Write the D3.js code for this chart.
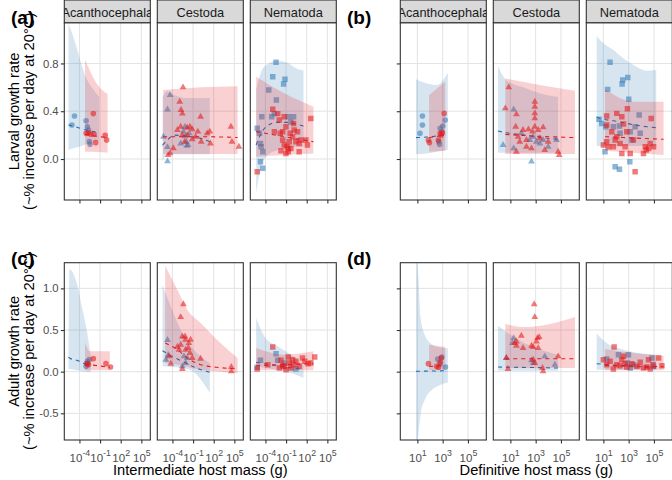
<!DOCTYPE html>
<html lang="en">
<head>
<meta charset="utf-8">
<script src="https://cdn.jsdelivr.net/npm/d3@7"></script>
<style>
  body { margin: 0; background: #fff; }
  svg text { font-family: "Liberation Sans", Arial, sans-serif; }
</style>
</head>
<body>
<svg id="chart" width="672" height="480"></svg>

<script>
// facets / tick labels
var taxa = ["Acanthocephala", "Cestoda", "Nematoda"];
var xTicksInt = [-4, -1, 2, 5];      // log10 intermediate host mass
var xTicksDef = [1, 3, 5];           // log10 definitive host mass
var yTicksLarval = [0.0, 0.4, 0.8];
var yTicksAdult = [-0.5, 0.0, 0.5, 1.0];
var xDomInt = [-6.2, 6.3];
var xDomDef = [-0.35, 6.45];
var yDomLarval = [-0.343, 1.141];
var yDomAdult = [-0.82, 1.308];

// points: [taxon index, log10 host mass, growth rate]
var larvalIntBlue = [
  [0,-5.1,0.285],[0,-4.72,0.36],[0,-3.03,0.32],[0,-2.85,0.27],[0,-2.7,0.243],[0,-2.56,0.145],[0,-2.46,0.123],
  [1,-5.3,0.187],[1,-4.72,0.10],[1,-4.72,-0.02],[1,-4.34,0.535],[1,-4.72,0.415],[1,-2.41,0.23],[1,-2.17,0.19],
  [1,-1.98,0.145],[1,-1.93,0.11],[1,-1.74,0.117],[1,-2.17,0.27],[1,-1.55,0.215],[1,-2.8,0.13],
  [2,-5.2,0.257],[2,-4.87,0.215],[2,-4.72,0.13],[2,-4.53,0.354],[2,-4.62,0.103],[2,-4.38,0.061],[2,-4.72,-0.022],
  [2,-4.38,-0.078],[2,-3.52,0.577],[2,-2.94,0.689],[2,-2.46,0.81],[2,-2.41,0.494],[2,-1.36,0.628],[2,-1.16,0.667],
  [2,-3.09,0.354],[2,-2.7,0.38],[2,-0.68,0.354],[2,0.09,0.354],[2,-0.3,0.31]
];
var larvalIntRed = [
  [0,-1.98,0.38],[0,-3.03,0.215],[0,-2.7,0.22],[0,-2.36,0.207],[0,-1.88,0.207],[0,-1.64,0.137],[0,-0.25,0.198],[0,-0.05,0.16],
  [1,-2.46,0.6],[1,-2.94,0.48],[1,-2.75,0.41],[1,-2.56,0.38],[1,-3.28,0.243],[1,-2.8,0.27],[1,-1.84,0.262],[1,-1.45,0.27],
  [1,-1.12,0.248],[1,-1.84,0.2],[1,-3.86,0.09],[1,-4.34,0.047],[1,-4.62,0.033],[1,0.09,0.354],[1,-0.3,0.229],[1,1.05,0.215],
  [1,1.43,0.229],[1,0.18,0.145],[1,1.53,0.13],[1,4.51,0.27],[1,4.65,0.145],[1,5.66,0.103],[1,-1.12,0.165],[1,-0.63,0.187],
  [1,-2.56,0.2],[1,-2.22,0.145],
  [2,-5.2,-0.106],[2,-2.94,0.416],[2,-2.22,0.38],[2,-1.98,0.326],[2,-1.26,0.354],[2,-1.02,0.27],[2,-1.84,0.215],[2,-1.5,0.159],
  [2,-1.26,0.117],[2,-0.87,0.103],[2,-0.68,0.089],[2,-0.3,0.089],[2,-0.54,0.145],[2,-0.06,0.187],[2,0.18,0.243],[2,0.42,0.145],
  [2,0.9,0.13],[2,1.14,0.159],[2,-1.74,0.07],[2,-1.02,0.047],[2,-0.68,0.061],[2,0.9,0.061],[2,2.1,0.117],[2,2.59,0.34],
  [2,0.09,0.298],[2,-2.7,0.229],[2,-1.5,0.229],[2,-0.4,0.215],[2,0.66,0.229],[2,1.87,0.159]
];
var larvalDefBlue = [
  [0,1.4,0.36],[0,1.4,0.285],[0,1.21,0.215],[0,3.2,0.326],[0,3.01,0.276],[0,2.8,0.257],[0,2.69,0.145],[0,2.75,0.123],[0,2.93,0.229],
  [1,0.42,0.117],[1,1.26,0.415],[1,1.26,0.089],[1,2.67,-0.022],[1,1.87,0.215],[1,2.53,0.159],[1,3.06,0.145],[1,3.33,0.13],
  [1,3.99,0.103],[1,4.65,0.159],[1,2.8,0.187],[1,3.59,0.159],
  [2,1.53,0.81],[2,2.53,0.661],[2,2.48,0.628],[2,2.93,0.683],[2,1.34,0.583],[2,3.01,0.5],[2,1.93,-0.064],[2,2.27,-0.086],
  [2,3.09,-0.022],[2,0.66,0.332],[2,0.87,0.298],[2,1.13,0.061],[2,1.19,0.27],[2,2.27,0.276],[2,2.32,0.215],[2,3.83,0.368],
  [2,3.51,0.27],[2,3.91,0.215],[2,3.12,0.229],[2,3.25,0.159],[2,1.79,0.27]
];
var larvalDefRed = [
  [0,3.12,0.382],[0,2.8,0.215],[0,2.88,0.2],[0,2.98,0.22],[0,1.87,0.159],[0,1.95,0.137],[0,2.67,0.159],
  [1,0.87,0.6],[1,0.6,0.424],[1,1.48,0.374],[1,1.42,0.27],[1,2.0,0.243],[1,2.93,0.48],[1,2.93,0.438],[1,2.93,0.382],
  [1,2.93,0.34],[1,2.93,0.27],[1,2.75,0.229],[1,3.59,0.265],[1,3.2,0.243],[1,1.74,0.145],[1,2.27,0.159],[1,2.27,0.103],
  [1,1.48,0.061],[1,2.67,0.089],[1,3.72,0.075],[1,4.78,0.061],[1,4.86,0.033],[1,3.99,0.145],[1,3.33,0.173],[1,1.61,0.187],[1,2.43,0.248],
  [2,1.26,0.36],[2,2.06,0.382],[2,2.9,0.421],[2,2.46,0.354],[2,4.78,0.34],[2,3.51,-0.106],[2,1.26,0.285],[2,1.66,0.229],
  [2,2.06,0.187],[2,1.26,0.145],[2,1.0,0.117],[2,1.79,0.103],[2,2.32,0.13],[2,2.72,0.103],[2,3.12,0.047],[2,2.46,0.047],
  [2,2.85,0.229],[2,3.38,0.159],[2,4.31,0.103],[2,4.39,0.075],[2,4.57,0.089],[2,4.7,0.13],[2,4.97,0.103],[2,4.17,0.047],
  [2,2.59,0.293],[2,1.4,0.103],[2,1.93,0.159]
];
var adultIntBlue = [
  [0,-3.04,0.064],[0,-2.8,0.096],[0,-2.56,0.144],[0,-2.85,0.124],
  [1,-4.72,0.38],[1,-4.96,0.144],[1,-4.62,0.2],[1,-2.56,0.064],[1,-2.08,0.104],[1,-2.32,0.184],[1,-1.84,0.164],
  [2,-5.2,0.052],[2,-4.72,0.136],[2,-2.46,0.216],[2,-2.22,0.136],[2,0.42,0.032],[2,-1.26,0.104]
];
var adultIntRed = [
  [0,-1.98,0.156],[0,-0.15,0.096],[0,0.52,0.056],[0,-2.94,0.096],[0,-2.7,0.084],
  [1,-2.41,0.81],[1,-2.8,0.655],[1,-2.56,0.423],[1,-2.17,0.423],[1,-2.08,0.383],[1,-2.8,0.323],[1,-3.04,0.264],[1,-1.6,0.343],
  [1,-1.36,0.383],[1,-1.69,0.284],[1,-1.45,0.224],[1,-1.12,0.164],[1,0.09,0.156],[1,-4.48,0.184],[1,-4.24,0.096],[1,-2.56,0.032],
  [1,-2.08,0.264],[1,4.56,0.056],[1,4.56,0.004],[1,-3.28,0.3],
  [2,-5.2,0.032],[2,-2.94,0.296],[2,-1.74,0.136],[2,-1.26,0.064],[2,-0.68,0.176],[2,-0.54,0.104],[2,-0.3,0.044],[2,0.09,0.084],
  [2,0.42,0.124],[2,0.9,0.064],[2,1.38,0.164],[2,1.72,0.124],[2,2.2,0.096],[2,3.16,0.176],[2,2.59,0.104],[2,-1.98,0.044],
  [2,-1.02,0.024],[2,-1.5,0.072],[2,-0.06,0.144],[2,-3.66,0.084]
];
var adultDefBlue = [
  [0,2.61,0.152],[0,2.8,0.096],[0,3.22,0.056],[0,2.93,0.176],
  [1,1.26,0.403],[1,0.68,0.164],[1,1.16,0.343],[1,2.67,0.136],[1,2.8,0.104],[1,3.72,0.184],[1,4.52,0.084],
  [2,1.26,0.152],[2,2.19,0.204],[2,2.98,0.204],[2,2.9,0.104],[2,3.12,0.044],[2,3.38,0.084],[2,4.84,0.164],[2,4.97,0.064]
];
var adultDefRed = [
  [0,1.87,0.096],[0,2.67,0.052],[0,2.88,0.164],[0,2.8,0.112],[0,2.53,0.064],
  [1,2.88,0.81],[1,2.93,0.655],[1,1.87,0.431],[1,1.48,0.311],[1,1.34,0.343],[1,2.0,0.284],[1,2.67,0.311],[1,2.8,0.296],
  [1,3.14,0.403],[1,3.28,0.415],[1,3.2,0.284],[1,3.06,0.363],[1,0.68,0.164],[1,0.81,0.032],[1,2.8,0.144],[1,2.93,0.104],
  [1,3.59,0.004],[1,3.54,0.044],[1,4.78,0.184],[1,1.48,0.363],
  [2,1.85,0.296],[2,1.0,0.144],[2,1.53,0.124],[2,2.06,0.084],[2,2.46,0.144],[2,2.59,0.184],[2,2.72,0.096],[2,2.85,0.056],
  [2,2.32,0.072],[2,3.25,0.096],[2,3.65,0.064],[2,3.91,0.112],[2,4.17,0.044],[2,4.44,0.056],[2,4.7,0.032],[2,4.92,0.084],
  [2,4.57,0.144],[2,5.37,0.164],[2,5.63,0.072],[2,1.26,0.084],[2,1.79,0.032]
];

// model fits: [taxon index, log10 host mass, lower, fit, upper]
var larvalIntBlueFit = [
  [0,-5.59,0.075,0.285,1.135],[0,-4.87,0.09,0.276,1.02],[0,-4.14,0.10,0.262,0.88],[0,-3.18,0.12,0.245,0.70],[0,-2.2,0.14,0.232,0.6],[0,-1.12,0.15,0.22,0.52],
  [1,-5.44,-0.02,0.117,0.52],[1,-4.72,0.04,0.16,0.57],[1,-3.76,0.04,0.2,0.535],[1,-1.84,0.04,0.19,0.51],[1,0.09,0.04,0.173,0.51],[1,1.43,0.04,0.145,0.51],
  [2,-5.35,-0.287,0.117,0.577],[2,-4.63,-0.064,0.215,0.73],[2,-3.9,0.02,0.27,0.787],[2,-2.22,0.075,0.307,0.823],[2,-0.78,0.09,0.307,0.806],[2,0.42,0.103,0.293,0.759],[2,1.53,0.103,0.276,0.74]
];
var larvalIntRedFit = [
  [0,-3.18,0.061,0.206,0.83],[0,-1.5,0.059,0.19,0.633],[0,0.09,0.053,0.18,0.544],
  [1,-5.35,0.042,0.187,0.577],[1,0.09,0.042,0.187,0.6],[1,5.47,0.042,0.18,0.61],
  [2,-5.35,0.02,0.229,0.689],[2,-1.26,0.033,0.187,0.55],[2,2.97,0.047,0.145,0.438]
];
var larvalDefBlueFit = [
  [0,0.89,0.042,0.179,0.667],[0,1.74,0.047,0.184,0.633],[0,2.53,0.061,0.192,0.62],[0,3.41,0.075,0.2,0.722],
  [1,0.02,0.053,0.234,0.778],[1,0.68,0.053,0.22,0.661],[1,2.27,0.053,0.198,0.591],[1,3.33,0.053,0.181,0.55],[1,4.78,0.053,0.165,0.52],
  [2,0.47,0.109,0.349,1.03],[2,1.0,0.109,0.332,0.968],[2,1.79,0.109,0.321,0.912],[2,2.59,0.109,0.304,0.842],[2,3.38,0.109,0.287,0.787],[2,4.44,0.109,0.27,0.739],[2,5.18,0.109,0.262,0.745]
];
var larvalDefRedFit = [
  [0,1.93,0.061,0.18,0.535],[0,3.2,0.07,0.2,0.647],
  [1,0.6,0.042,0.206,0.675],[1,3.33,0.042,0.19,0.62],[1,6.11,0.042,0.179,0.572],
  [2,1.13,0.07,0.187,0.583],[2,3.38,0.053,0.176,0.48],[2,5.76,0.033,0.165,0.48]
];
var adultIntBlueFit = [
  [0,-5.59,0.032,0.176,0.2],[0,-5.45,0.032,0.164,1.23],[0,-4.38,0.016,0.136,1.06],[0,-3.66,0.004,0.112,0.783],[0,-3.04,0,0.088,0.543],[0,-2.37,-0.008,0.072,0.204],
  [1,-5.44,0.064,0.252,1.04],[1,-4.24,0.056,0.192,0.783],[1,-2.56,0.044,0.124,0.463],[1,-0.88,-0.008,0.056,0.264],[1,1.43,-0.256,-0.008,0.104],
  [2,-5.35,0.064,0.112,0.643],[2,-4.14,0.048,0.096,0.423],[2,-2.22,0.024,0.072,0.304],[2,-0.3,-0.016,0.048,0.204],[2,1.53,-0.076,0.024,0.084]
];
var adultIntRedFit = [
  [0,-3.18,0.016,0.092,0.351],[0,-2.46,0.016,0.084,0.244],[0,0.42,0.016,0.052,0.244],
  [1,-5.06,0.104,0.343,1.27],[1,-3.28,0.084,0.264,0.982],[1,-1.84,0.056,0.164,0.743],[1,0.09,0.024,0.084,0.583],[1,2.97,0,0.048,0.343],[1,5.47,-0.016,0.032,0.164],
  [2,-5.35,0.016,0.072,0.284],[2,-1.26,0.016,0.084,0.204],[2,2.97,0.016,0.096,0.244]
];
var adultDefBlueFit = [
  [0,0.89,-0.9,0.004,1.4],[0,1.05,-0.8,0.005,1.2],[0,1.26,-0.5,0.006,0.64],[0,1.61,-0.33,0.007,0.43],[0,2.14,-0.22,0.008,0.33],[0,2.8,-0.16,0.01,0.29],[0,3.41,-0.13,0.012,0.28],
  [1,0.02,0.012,0.056,0.551],[1,1.21,0.012,0.053,0.423],[1,2.67,0.012,0.05,0.304],[1,4.78,0.012,0.044,0.204],
  [2,0.47,0.024,0.096,0.455],[2,1.26,0.024,0.085,0.343],[2,2.59,0.024,0.07,0.264],[2,5.18,0.024,0.044,0.204]
];
var adultDefRedFit = [
  [0,1.93,0.016,0.064,0.323],[0,3.2,0.024,0.072,0.296],
  [1,0.6,0.044,0.156,0.575],[1,2.0,0.044,0.156,0.535],[1,3.86,0.044,0.156,0.563],[1,6.11,0.044,0.156,0.655],
  [2,1.13,0.016,0.076,0.272],[2,3.38,0.016,0.068,0.224],[2,5.76,0.016,0.06,0.192]
];

var yTitle2 = "(~% increase per day at 20\u00B0C)";

var panels = [
  {label: "(a)", lx: 11, ly: 23.5, left: 64.3, top: 22.7, strip: true, xlab: false, ylab: true,
   pts: [larvalIntBlue, larvalIntRed], fits: [larvalIntBlueFit, larvalIntRedFit],
   xDom: xDomInt, yDom: yDomLarval, xTicks: xTicksInt, yTicks: yTicksLarval, yTitle: "Larval growth rate"},
  {label: "(b)", lx: 347, ly: 23.5, left: 400.3, top: 22.7, strip: true, xlab: false, ylab: false,
   pts: [larvalDefBlue, larvalDefRed], fits: [larvalDefBlueFit, larvalDefRedFit],
   xDom: xDomDef, yDom: yDomLarval, xTicks: xTicksDef, yTicks: yTicksLarval},
  {label: "(c)", lx: 11, ly: 264.5, left: 64.3, top: 262.7, strip: false, xlab: true, ylab: true,
   pts: [adultIntBlue, adultIntRed], fits: [adultIntBlueFit, adultIntRedFit],
   xDom: xDomInt, yDom: yDomAdult, xTicks: xTicksInt, yTicks: yTicksAdult, yTitle: "Adult growth rate",
   xTitle: "Intermediate host mass (g)"},
  {label: "(d)", lx: 347, ly: 264.5, left: 400.3, top: 262.7, strip: false, xlab: true, ylab: false,
   pts: [adultDefBlue, adultDefRed], fits: [adultDefBlueFit, adultDefRedFit],
   xDom: xDomDef, yDom: yDomAdult, xTicks: xTicksDef, yTicks: yTicksAdult,
   xTitle: "Definitive host mass (g)"}
];

var facetW = 86, facetGap = 7, plotH = 177.3, stripH = 22.7;
var ribbonFill = ["#377EB8", "#E41A1C"];
var pointFill = ["#377EB8", "#E41A1C"];
var lineCol = ["#1F6FB8", "#E41A1C"];
var shapes = [d3.symbolCircle, d3.symbolTriangle, d3.symbolSquare];
var shapeSize = [25, 20, 30];

var svg = d3.select("#chart");
var defs = svg.append("defs");

panels.forEach(function(p, pi) {
  var g = svg.append("g");
  taxa.forEach(function(taxon, ti) {
    var fx = p.left + ti * (facetW + facetGap);
    var x = d3.scaleLinear().domain(p.xDom).range([fx, fx + facetW]);
    var y = d3.scaleLinear().domain(p.yDom).range([p.top + plotH, p.top]);
    var cid = "clip" + pi + "_" + ti;
    defs.append("clipPath").attr("id", cid).append("rect")
      .attr("x", fx).attr("y", p.top).attr("width", facetW).attr("height", plotH);

    g.append("rect").attr("x", fx).attr("y", p.top).attr("width", facetW).attr("height", plotH)
      .attr("fill", "#fff");

    // grid
    g.selectAll(null).data(p.xTicks).enter().append("line")
      .attr("x1", function(d) { return x(d); }).attr("x2", function(d) { return x(d); })
      .attr("y1", p.top).attr("y2", p.top + plotH)
      .attr("stroke", "#E3E3E3").attr("stroke-width", 1);
    g.selectAll(null).data(p.yTicks).enter().append("line")
      .attr("y1", function(d) { return y(d); }).attr("y2", function(d) { return y(d); })
      .attr("x1", fx).attr("x2", fx + facetW)
      .attr("stroke", "#E3E3E3").attr("stroke-width", 1);

    var data = g.append("g").attr("clip-path", "url(#" + cid + ")");
    [0, 1].forEach(function(ci) {
      var fit = p.fits[ci].filter(function(d) { return d[0] === ti; });
      var pts = p.pts[ci].filter(function(d) { return d[0] === ti; });
      var area = d3.area().curve(d3.curveMonotoneX)
        .x(function(d) { return x(d[1]); })
        .y0(function(d) { return y(d[2]); })
        .y1(function(d) { return y(d[4]); });
      data.append("path").datum(fit).attr("d", area)
        .attr("fill", ribbonFill[ci]).attr("fill-opacity", 0.2);
      data.selectAll(null).data(pts).enter().append("path")
        .attr("d", d3.symbol().type(shapes[ti]).size(shapeSize[ti]))
        .attr("transform", function(d) { return "translate(" + x(d[1]) + "," + y(d[2]) + ")"; })
        .attr("fill", pointFill[ci]).attr("fill-opacity", 0.58);
      var line = d3.line().curve(d3.curveMonotoneX)
        .x(function(d) { return x(d[1]); })
        .y(function(d) { return y(d[3]); });
      data.append("path").datum(fit).attr("d", line)
        .attr("fill", "none").attr("stroke", lineCol[ci]).attr("stroke-width", 1.1)
        .attr("stroke-dasharray", "4,4");
    });

    g.append("rect").attr("x", fx).attr("y", p.top).attr("width", facetW).attr("height", plotH)
      .attr("fill", "none").attr("stroke", "#333333").attr("stroke-width", 1.1);

    // strip
    if (p.strip) {
      var sid = "strip" + pi + "_" + ti;
      defs.append("clipPath").attr("id", sid).append("rect")
        .attr("x", fx).attr("y", p.top - stripH).attr("width", facetW).attr("height", stripH);
      g.append("rect").attr("x", fx).attr("y", p.top - stripH).attr("width", facetW).attr("height", stripH)
        .attr("fill", "#D9D9D9").attr("stroke", "#333333").attr("stroke-width", 1.1);
      g.append("text").attr("clip-path", "url(#" + sid + ")")
        .attr("x", fx + facetW / 2).attr("y", p.top - 5.8)
        .attr("text-anchor", "middle").attr("font-size", "12.8px").attr("fill", "#1A1A1A")
        .text(taxon);
    }

    // x axis
    var xa = g.append("g").attr("transform", "translate(0," + (p.top + plotH) + ")")
      .call(d3.axisBottom(x).tickValues(p.xTicks).tickSize(3.5).tickFormat(""));
    xa.select(".domain").remove();
    xa.selectAll(".tick line").attr("stroke", "#333333").attr("stroke-width", 1.1);
    if (p.xlab) {
      xa.selectAll(".tick text").each(function(d) {
        var t = d3.select(this).text(null).attr("y", 21.5).attr("dy", null)
          .attr("fill", "#4D4D4D").attr("font-size", "11.5px").attr("text-anchor", "middle");
        t.append("tspan").text("10");
        t.append("tspan").attr("dy", -6).attr("font-size", "8.8px").text(String(d));
      });
    }

    // y axis on first facet
    if (ti === 0) {
      var ya = g.append("g").attr("transform", "translate(" + fx + ",0)")
        .call(d3.axisLeft(y).tickValues(p.yTicks).tickSize(3.5).tickPadding(2.2)
          .tickFormat(function(d) { return p.ylab ? d.toFixed(1) : ""; }));
      ya.select(".domain").remove();
      ya.selectAll(".tick line").attr("stroke", "#333333").attr("stroke-width", 1.1);
      ya.selectAll(".tick text").attr("fill", "#4D4D4D").attr("font-size", "11.3px")
        .attr("font-family", "Liberation Sans, Arial, sans-serif");
    }
  });

  var cy = p.top + plotH / 2;
  if (p.yTitle) {
    var yt = g.append("text").attr("transform", "translate(19," + cy + ") rotate(-90)")
      .attr("text-anchor", "middle").attr("font-size", "14.7px").attr("fill", "#000");
    yt.append("tspan").attr("x", 0).attr("y", 0).text(p.yTitle);
    yt.append("tspan").attr("x", 0).attr("y", 14.5).text(yTitle2);
  }
  if (p.xTitle) {
    g.append("text").attr("x", p.left + (3 * facetW + 2 * facetGap) / 2).attr("y", 475)
      .attr("text-anchor", "middle").attr("font-size", "14.7px").attr("fill", "#000")
      .text(p.xTitle);
  }
  g.append("text").attr("x", p.lx).attr("y", p.ly)
    .attr("font-size", "19px").attr("font-weight", "bold").attr("fill", "#000")
    .text(p.label);
});
</script>
</body>
</html>
